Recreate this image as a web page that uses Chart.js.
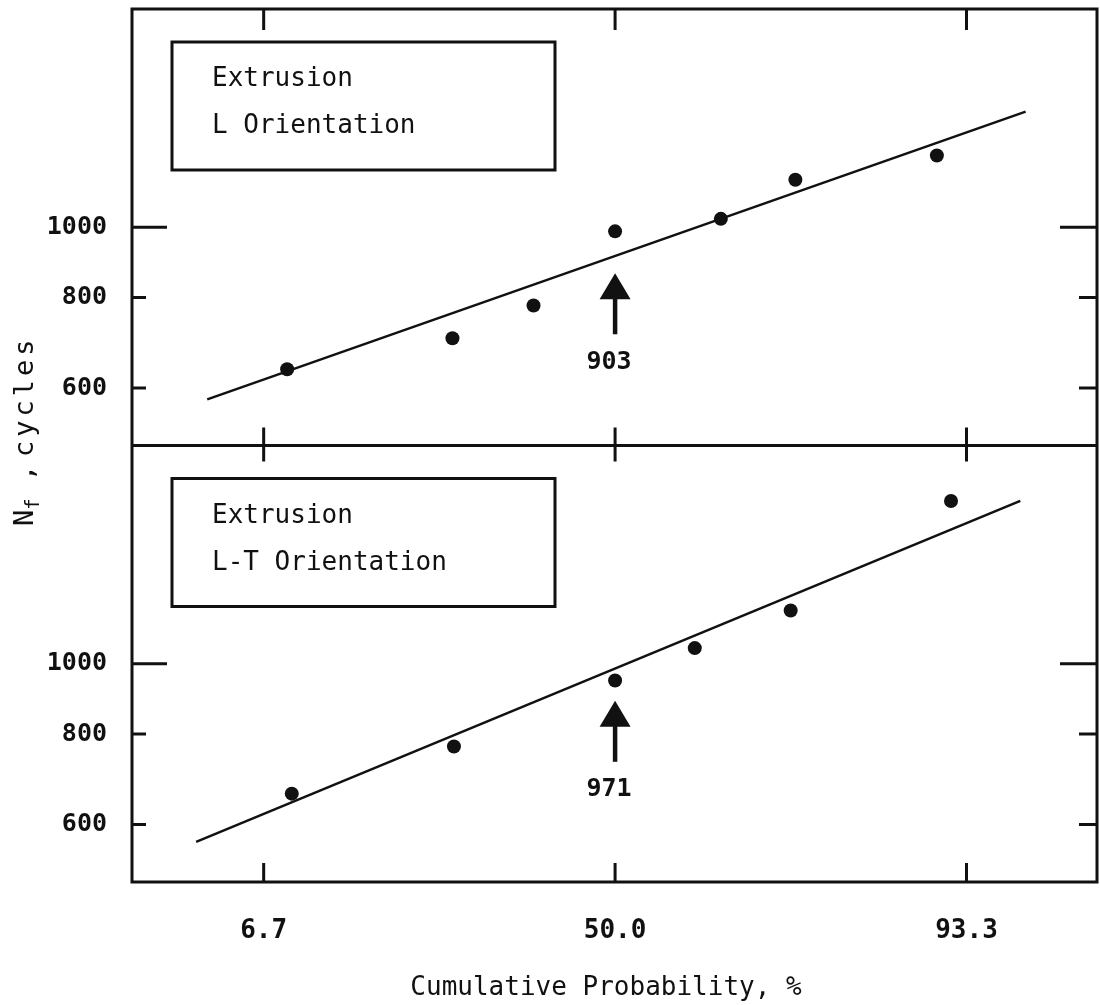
<!DOCTYPE html>
<html>
<head>
<meta charset="utf-8">
<script src="https://cdn.jsdelivr.net/npm/chart.js@4.4.1/dist/chart.umd.min.js"></script>
<style>
  html, body { margin: 0; padding: 0; background: #fff; overflow: hidden; }
  #wrap { width: 1100px; height: 1005px; overflow: hidden; }
</style>
</head>
<body>
<div id="wrap"><canvas id="nfChart" width="1104" height="1005"></canvas></div>
<script>
// values
const topProb = [8.1, 24.4, 36.4, 50.0, 67.4, 77.9, 91.5];
const topCycles = [637, 703, 780, 987, 1027, 1163, 1256];
const topFitProb = [4.1, 96.0];
const topFitCycles = [579, 1444];

const botProb = [8.4, 24.6, 50.0, 63.3, 77.3, 92.4];
const botCycles = [662, 769, 948, 1051, 1184, 1677];
const botFitProb = [3.7, 95.8];
const botFitCycles = [568, 1677];

const probTicks = [6.7, 50.0, 93.3];
const cycleTicks = [600, 800, 1000];
const panelNames = [['Extrusion', 'L Orientation'], ['Extrusion', 'L-T Orientation']];
const medianLabels = ['903', '971'];

const FONT = "'DejaVu Sans Mono', 'Liberation Mono', monospace";

// inverse of the standard normal cdf (Acklam), used for the probability axis
function probit(pct) {
    const p = pct / 100;
    const a = [-39.69683028665376, 220.9460984245205, -275.9285104469687, 138.3577518672690, -30.66479806614716, 2.506628277459239];
    const b = [-54.47609879822406, 161.5858368580409, -155.6989798598866, 66.80131188771972, -13.28068155288572];
    const c = [-0.007784894002430293, -0.3223964580411365, -2.400758277161838, -2.549732539343734, 4.374664141464968, 2.938163982698783];
    const d = [0.007784695709041462, 0.3224671290700398, 2.445134137142996, 3.754408661907416];
    const pl = 0.02425;
    let q, r;
    if (p < pl) {
        q = Math.sqrt(-2 * Math.log(p));
        return (((((c[0]*q+c[1])*q+c[2])*q+c[3])*q+c[4])*q+c[5]) / ((((d[0]*q+d[1])*q+d[2])*q+d[3])*q+1);
    }
    if (p > 1 - pl) {
        q = Math.sqrt(-2 * Math.log(1 - p));
        return -(((((c[0]*q+c[1])*q+c[2])*q+c[3])*q+c[4])*q+c[5]) / ((((d[0]*q+d[1])*q+d[2])*q+d[3])*q+1);
    }
    q = p - 0.5;
    r = q * q;
    return (((((a[0]*r+a[1])*r+a[2])*r+a[3])*r+a[4])*r+a[5])*q / (((((b[0]*r+b[1])*r+b[2])*r+b[3])*r+b[4])*r+1);
}

function toPoints(probs, cycles) {
    return probs.map((p, i) => ({ x: probit(p), y: cycles[i] }));
}

// no extra room for tick labels: the frame must sit on the canvas edges
function noPadding(scale) {
    scale.paddingTop = 0;
    scale.paddingBottom = 0;
    scale.paddingLeft = 0;
    scale.paddingRight = 0;
}

// frame, inward tick marks, legend boxes, arrows and axis titles
const decorations = {
    id: 'decorations',
    afterDatasetsDraw(chart) {
        const ctx = chart.ctx;
        const area = chart.chartArea;
        const x = chart.scales.x;
        const panels = [chart.scales.yTop, chart.scales.yBot];
        const divider = chart.scales.yTop.bottom;

        ctx.save();
        ctx.strokeStyle = '#111';
        ctx.fillStyle = '#111';
        ctx.lineWidth = 3;
        ctx.lineCap = 'butt';

        // frame + divider
        ctx.strokeRect(area.left, area.top, area.right - area.left, area.bottom - area.top);
        ctx.beginPath();
        ctx.moveTo(area.left, divider);
        ctx.lineTo(area.right, divider);
        ctx.stroke();

        // x tick marks
        probTicks.forEach(function(p) {
            const px = x.getPixelForValue(probit(p));
            ctx.beginPath();
            ctx.moveTo(px, area.top); ctx.lineTo(px, area.top + 21);
            ctx.moveTo(px, divider - 18); ctx.lineTo(px, divider + 16);
            ctx.moveTo(px, area.bottom); ctx.lineTo(px, area.bottom - 19);
            ctx.stroke();
        });

        // y tick marks on both sides
        panels.forEach(function(sc) {
            cycleTicks.forEach(function(v) {
                const py = sc.getPixelForValue(v);
                const big = v === 1000;
                ctx.beginPath();
                ctx.moveTo(area.left, py); ctx.lineTo(area.left + (big ? 35 : 14), py);
                ctx.moveTo(area.right, py); ctx.lineTo(area.right - (big ? 37 : 18), py);
                ctx.stroke();
            });
        });

        // legend boxes
        panels.forEach(function(sc, i) {
            const bx = area.left + 40;
            const by = sc.top + 33;
            ctx.lineWidth = 3;
            ctx.strokeRect(bx, by, 383, 128);
            ctx.font = '26px ' + FONT;
            ctx.textAlign = 'left';
            ctx.textBaseline = 'alphabetic';
            ctx.fillText(panelNames[i][0], bx + 40, by + 44);
            ctx.fillText(panelNames[i][1], bx + 40, by + 91);
        });

        // median arrows
        const arrowTips = [864, 889];
        panels.forEach(function(sc, i) {
            const ax = x.getPixelForValue(probit(50));
            const tip = sc.getPixelForValue(arrowTips[i]);
            ctx.beginPath();
            ctx.moveTo(ax, tip);
            ctx.lineTo(ax - 15.5, tip + 26);
            ctx.lineTo(ax + 15.5, tip + 26);
            ctx.closePath();
            ctx.fill();
            ctx.lineWidth = 4.5;
            ctx.beginPath();
            ctx.moveTo(ax, tip + 20);
            ctx.lineTo(ax, tip + 61);
            ctx.stroke();
            ctx.font = 'bold 25px ' + FONT;
            ctx.textAlign = 'center';
            ctx.textBaseline = 'middle';
            ctx.fillText(medianLabels[i], ax - 6, tip + 89);
        });

        // x axis title
        ctx.font = '26px ' + FONT;
        ctx.textAlign = 'center';
        ctx.textBaseline = 'alphabetic';
        ctx.fillText('Cumulative Probability, %', 606, 995);

        // y axis title with subscript
        ctx.translate(33, 526);
        ctx.rotate(-Math.PI / 2);
        ctx.textAlign = 'left';
        ctx.font = '27px ' + FONT;
        ctx.fillText('N', 0, 0);
        let w = ctx.measureText('N').width;
        ctx.font = '19px ' + FONT;
        ctx.fillText('f', w, 6);
        w += ctx.measureText('f').width + 1;
        ctx.font = '27px ' + FONT;
        ctx.fillText(' ,', w, 0);
        ctx.letterSpacing = '4px';
        ctx.fillText('cycles', 69, 0);

        ctx.restore();
    }
};

const yAxisBase = {
    type: 'logarithmic',
    position: 'left',
    stack: 'nf',
    stackWeight: 1,
    min: 500,
    max: 2000,
    grid: { display: false },
    border: { display: false },
    afterBuildTicks: function(scale) {
        scale.ticks = cycleTicks.map(v => ({ value: v }));
    },
    afterFit: function(scale) {
        scale.width = 132;
        noPadding(scale);
    },
    ticks: {
        padding: 17,
        color: '#111',
        font: { family: FONT, size: 25, weight: 'bold' },
        callback: function(value) { return String(value); }
    }
};

var nfCtx = document.getElementById('nfChart').getContext('2d');
var nfChart = new Chart(nfCtx, {
    type: 'scatter',
    data: {
        datasets: [
            {
                label: 'L fit',
                data: toPoints(topFitProb, topFitCycles),
                yAxisID: 'yTop',
                showLine: true,
                borderColor: '#111',
                borderWidth: 2.5,
                pointRadius: 0
            },
            {
                label: 'L orientation',
                data: toPoints(topProb, topCycles),
                yAxisID: 'yTop',
                backgroundColor: '#111',
                borderColor: '#111',
                pointRadius: 7,
                borderWidth: 0
            },
            {
                label: 'L-T fit',
                data: toPoints(botFitProb, botFitCycles),
                yAxisID: 'yBot',
                showLine: true,
                borderColor: '#111',
                borderWidth: 2.5,
                pointRadius: 0
            },
            {
                label: 'L-T orientation',
                data: toPoints(botProb, botCycles),
                yAxisID: 'yBot',
                backgroundColor: '#111',
                borderColor: '#111',
                pointRadius: 7,
                borderWidth: 0
            }
        ]
    },
    options: {
        responsive: false,
        animation: false,
        layout: { padding: { top: 9, right: 1, left: 0, bottom: 0 } },
        plugins: {
            legend: { display: false },
            tooltip: { enabled: false }
        },
        scales: {
            x: {
                type: 'linear',
                position: 'bottom',
                min: -2.06,
                max: 2.055,
                grid: { display: false },
                border: { display: false },
                afterBuildTicks: function(scale) {
                    scale.ticks = probTicks.map(p => ({ value: probit(p) }));
                },
                afterFit: function(scale) {
                    scale.height = 123;
                    noPadding(scale);
                },
                ticks: {
                    padding: 26,
                    maxRotation: 0,
                    color: '#111',
                    font: { family: FONT, size: 26, weight: 'bold' },
                    callback: function(value, index) { return probTicks[index].toFixed(1); }
                }
            },
            yBot: Object.assign({}, yAxisBase),
            yTop: Object.assign({}, yAxisBase)
        }
    },
    plugins: [decorations]
});
</script>
</body>
</html>
